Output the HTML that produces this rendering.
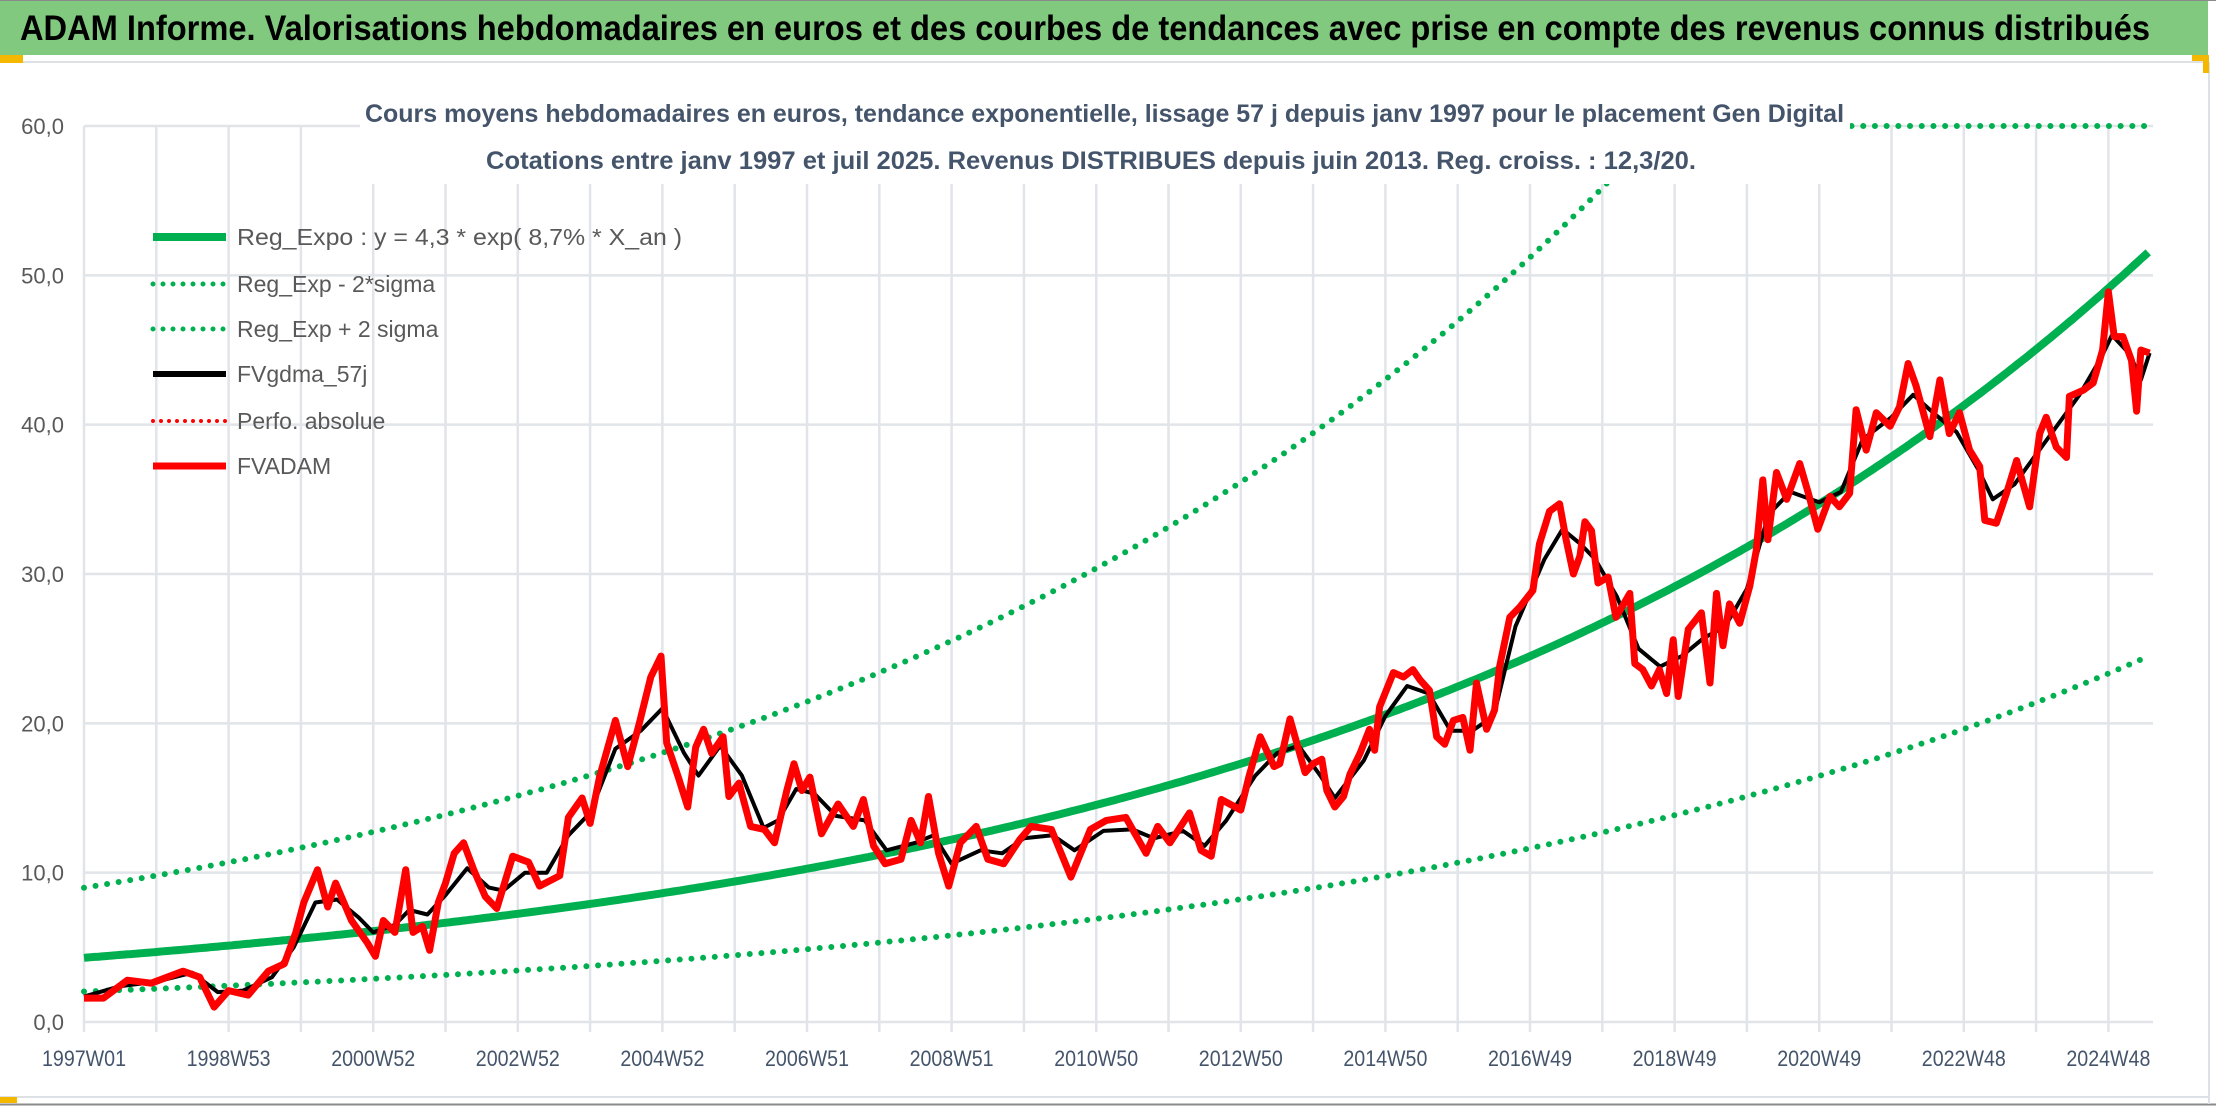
<!DOCTYPE html>
<html><head><meta charset="utf-8"><style>
html,body{margin:0;padding:0;background:#fff;}
svg{display:block;}
text{font-family:"Liberation Sans",sans-serif;}
</style></head><body>
<svg id="chart" width="2216" height="1106" viewBox="0 0 2216 1106" xmlns="http://www.w3.org/2000/svg">
<rect x="0" y="0" width="2216" height="1106" fill="#fff"/>
<rect x="0" y="0" width="2208" height="55" fill="#80c97f"/>
<line x1="0" y1="0.5" x2="2216" y2="0.5" stroke="#8a8a8a" stroke-width="1"/>
<text x="20" y="40" font-size="35" font-weight="bold" fill="#000" textLength="2130" lengthAdjust="spacingAndGlyphs">ADAM Informe. Valorisations hebdomadaires en euros et des courbes de tendances avec prise en compte des revenus connus distribués</text>
<line x1="0" y1="62" x2="2208" y2="62" stroke="#dde1e6" stroke-width="2"/>
<line x1="0" y1="1097" x2="2208" y2="1097" stroke="#dde1e6" stroke-width="2"/>
<line x1="0" y1="1104.5" x2="2216" y2="1104.5" stroke="#8a8a8a" stroke-width="2"/>
<line x1="2209" y1="62" x2="2209" y2="1104" stroke="#dde1e6" stroke-width="2"/>
<rect x="0" y="55" width="23" height="8" fill="#f5b800"/>
<rect x="0" y="1097" width="17" height="6" fill="#f5b800"/>
<rect x="2192" y="55" width="17" height="6" fill="#f5b800"/>
<rect x="2203" y="55" width="6" height="18" fill="#f5b800"/>
<g id="grid"></g>
<g id="axes"></g>
<g id="series"></g>
<rect x="360" y="90" width="1490" height="94" fill="#fff"/>
<text x="365" y="122" font-size="25" font-weight="bold" fill="#44546a" textLength="1479" lengthAdjust="spacingAndGlyphs">Cours moyens hebdomadaires en euros, tendance exponentielle, lissage 57 j depuis janv 1997 pour le placement Gen Digital</text>
<text x="486" y="169" font-size="25" font-weight="bold" fill="#44546a" textLength="1210" lengthAdjust="spacingAndGlyphs">Cotations entre janv 1997 et juil 2025. Revenus DISTRIBUES depuis juin 2013. Reg. croiss. : 12,3/20.</text>
<g id="legend"></g>
</svg>
<script>
// ---- data ----
const xTickLabels = ["1997W01","1998W53","2000W52","2002W52","2004W52","2006W51","2008W51","2010W50","2012W50","2014W50","2016W49","2018W49","2020W49","2022W48","2024W48"];
const yTicks = [0,10,20,30,40,50,60];
const yTickLabels = ["0,0","10,0","20,0","30,0","40,0","50,0","60,0"];
const trendA = 4.3;
const trendB = 0.087;
const bandLow = 0.475;
const bandHigh = 2.09;
const bandCap = 60;
const redT = [0,0.27,0.6,0.93,1.37,1.6,1.8,2.0,2.27,2.55,2.77,2.93,3.04,3.23,3.37,3.48,3.7,3.92,4.03,4.14,4.3,4.45,4.55,4.68,4.78,4.9,5.0,5.12,5.25,5.39,5.55,5.71,5.93,6.15,6.3,6.58,6.7,6.89,7.0,7.13,7.35,7.52,7.68,7.84,7.98,8.06,8.22,8.35,8.46,8.57,8.68,8.84,8.92,9.06,9.22,9.41,9.55,9.72,9.82,9.93,10.04,10.2,10.43,10.64,10.78,10.92,11.08,11.3,11.44,11.57,11.68,11.82,11.96,12.12,12.34,12.5,12.72,12.94,13.1,13.38,13.65,13.92,14.14,14.41,14.69,14.85,15.02,15.29,15.45,15.59,15.73,16.0,16.11,16.27,16.46,16.54,16.68,16.89,17.0,17.12,17.19,17.3,17.42,17.51,17.65,17.78,17.85,17.92,18.11,18.25,18.38,18.48,18.61,18.71,18.82,18.94,19.07,19.17,19.26,19.4,19.51,19.58,19.72,19.86,20.04,20.13,20.27,20.41,20.5,20.6,20.69,20.76,20.85,20.94,21.08,21.19,21.38,21.45,21.56,21.68,21.79,21.89,21.98,22.05,22.19,22.37,22.49,22.58,22.67,22.76,22.9,23.04,23.13,23.22,23.29,23.41,23.55,23.73,23.85,23.98,24.15,24.28,24.42,24.51,24.65,24.79,24.98,25.11,25.23,25.34,25.53,25.67,25.8,25.94,26.08,26.22,26.29,26.45,26.59,26.73,26.91,27.05,27.14,27.28,27.42,27.46,27.65,27.79,27.92,28.0,28.08,28.2,28.32,28.39,28.45,28.57];
const redV = [1.6,1.6,2.8,2.6,3.4,3.0,1.0,2.1,1.8,3.4,3.9,6.0,8.0,10.2,7.7,9.3,6.8,5.3,4.4,6.8,6.0,10.2,6.0,6.4,4.8,8.0,9.3,11.3,12.0,10.2,8.4,7.6,11.1,10.7,9.1,9.8,13.7,15.0,13.3,16.4,20.2,17.1,20.0,23.1,24.5,18.7,16.4,14.4,18.4,19.6,18.0,19.1,15.1,16.0,13.1,12.9,12.0,15.5,17.3,15.5,16.4,12.6,14.6,13.1,14.9,11.8,10.6,10.9,13.5,12.0,15.1,11.3,9.1,12.0,13.1,10.9,10.6,12.2,13.1,12.9,9.7,12.9,13.5,13.7,11.3,13.1,12.0,14.0,11.5,11.1,14.9,14.2,16.4,19.1,17.1,17.3,20.3,16.7,17.3,17.6,15.5,14.4,15.1,16.6,18.0,19.6,18.2,21.1,23.4,23.1,23.6,22.9,22.2,19.1,18.6,20.2,20.4,18.2,22.7,19.6,20.9,23.8,27.1,27.8,28.9,32.0,34.2,34.7,32.3,30.0,31.2,33.5,32.9,29.4,29.8,27.1,28.7,24.0,23.6,22.5,23.6,22.0,25.6,21.8,26.3,27.4,22.7,28.7,25.2,28.0,26.7,29.2,31.6,36.3,32.3,36.8,35.0,37.4,35.4,33.0,35.2,34.5,35.4,41.0,38.3,40.8,39.9,41.2,44.1,42.6,39.2,43.0,39.4,40.8,38.3,37.2,33.6,33.4,35.4,37.6,34.5,39.4,40.5,38.5,37.8,41.9,42.3,42.8,45.0,48.9,45.9,45.9,44.3,40.9,45.0,44.8];
const blackT = [0,0.5,1,1.5,1.85,2.2,2.6,2.9,3.2,3.5,3.8,4.0,4.3,4.5,4.75,5.0,5.3,5.6,5.8,6.1,6.4,6.7,7.0,7.35,7.7,8.0,8.3,8.5,8.8,9.1,9.4,9.6,9.85,10.1,10.4,10.8,11.1,11.5,11.75,12.0,12.4,12.7,13.0,13.4,13.7,14.1,14.5,14.8,15.2,15.5,15.8,16.2,16.5,16.8,17.1,17.3,17.7,18.0,18.3,18.6,18.9,19.2,19.5,19.8,20.2,20.45,20.7,20.9,21.2,21.5,21.8,22.1,22.4,22.7,23.0,23.3,23.6,24.0,24.3,24.6,25.0,25.3,25.6,25.9,26.2,26.4,26.7,27.0,27.3,27.6,27.9,28.05,28.3,28.45,28.57];
const blackV = [1.7,2.4,2.7,3.3,2.0,2.1,3.0,5.0,8.0,8.2,7.0,6.0,6.5,7.5,7.2,8.5,10.3,9.0,8.8,10.0,10.0,12.5,14.0,18.3,19.5,21.0,18.0,16.5,18.5,16.5,13.0,13.5,15.6,15.3,13.8,13.5,11.5,12.0,12.5,10.6,11.5,11.3,12.3,12.5,11.5,12.8,12.9,12.3,12.8,11.8,13.5,16.5,18.0,18.5,16.5,15.0,17.5,20.5,22.5,22.0,19.5,19.5,20.5,26.5,31.0,33.0,32.0,31.0,28.5,25.0,23.8,24.5,25.7,26.5,29.0,34.0,35.5,34.8,35.5,39.0,40.5,42.0,40.7,39.5,37.0,35.0,36.0,38.0,40.0,42.0,44.5,46.0,44.7,43.0,44.8];

// ---- scales ----
const X0 = 84, PXY = 72.3, Y0 = 1022, PXV = 14.933;
function sx(t){ return X0 + t*PXY; }
function sy(v){ return Y0 - v*PXV; }
const NS = "http://www.w3.org/2000/svg";
function mk(tag, attrs, parent){ const e=document.createElementNS(NS,tag); for(const k in attrs) e.setAttribute(k, attrs[k]); parent.appendChild(e); return e; }
const grid = document.getElementById('grid');
const axes = document.getElementById('axes');
const series = document.getElementById('series');
const legend = document.getElementById('legend');
const tEnd = 28.57;
const xRight = 2153;

// horizontal gridlines + y labels
yTicks.forEach((v,i)=>{
  const l = mk('line',{x1:X0,x2:xRight,y1:sy(v),y2:sy(v),stroke:'#e1e4e8','stroke-width':2.5},grid);
  
  
  const t = mk('text',{x:64,y:sy(v)+8,'text-anchor':'end','font-size':22,fill:'#595959'},axes);
  t.textContent = yTickLabels[i];
  
  
});
// vertical gridlines
for(let k=0;k<=28;k++){
  const x = sx(k);
  const l = mk('line',{x1:x,x2:x,y1:sy(60),y2:Y0+10,stroke:'#e1e4e8','stroke-width':2.5},grid);
  
  
}
// x labels
xTickLabels.forEach((s,i)=>{
  const t = mk('text',{x:sx(2*i),y:1066,'text-anchor':'middle','font-size':22,fill:'#44546a',textLength:84,lengthAdjust:'spacingAndGlyphs'},axes);
  t.textContent = s;
  
  
});

function pathFrom(ts, vs){ return ts.map((t,i)=>(i?'L':'M')+sx(t).toFixed(1)+' '+sy(vs[i]).toFixed(1)).join(' '); }
function curve(fn){ let d=''; for(let t=0;t<=tEnd+1e-9;t+=0.05){ d+=(d?'L':'M')+sx(t).toFixed(1)+' '+sy(fn(t)).toFixed(1)+' '; } return d; }
const trend = t => trendA*Math.exp(trendB*t);

const pTrend = mk('path',{d:curve(trend),fill:'none',stroke:'#00b050','stroke-width':8},series);


const pLow = mk('path',{d:curve(t=>trend(t)*bandLow),fill:'none',stroke:'#00b050','stroke-width':6,'stroke-linecap':'round','stroke-dasharray':'0 11.7'},series);


const pHigh = mk('path',{d:curve(t=>Math.min(trend(t)*bandHigh,bandCap)),fill:'none',stroke:'#00b050','stroke-width':6,'stroke-linecap':'round','stroke-dasharray':'0 11.7'},series);


const pRed = mk('path',{d:pathFrom(redT,redV),fill:'none',stroke:'#ff0000','stroke-width':7,'stroke-linejoin':'round'},series);


const pBlack = mk('path',{d:pathFrom(blackT,blackV),fill:'none',stroke:'#000','stroke-width':4,'stroke-linejoin':'round'},series);


series.appendChild(pRed);
// draw black partially under red: black then red on top, red slightly translucent edges kept
series.insertBefore(pBlack, pRed);

// legend
const legItems = [
 ['Reg_Expo : y = 4,3 * exp( 8,7% *  X_an )','#00b050',8,null],
 ['Reg_Exp - 2*sigma','#00b050',5,'0 10'],
 ['Reg_Exp + 2 sigma','#00b050',5,'0 10'],
 ['FVgdma_57j','#000',6,null],
 ['Perfo. absolue','#ff0000',4,'0 8'],
 ['FVADAM','#ff0000',7,null]
];
const legY = [237,284,329,374,421,466];
legItems.forEach((it,i)=>{
  const g = mk('g',{},legend);
  
  
  const a = {x1:153,x2:226,y1:legY[i],y2:legY[i],stroke:it[1],'stroke-width':it[2]};
  if(it[3]){ a['stroke-dasharray']=it[3]; a['stroke-linecap']='round'; }
  const l = mk('line',a,g);
  
  
  const t = mk('text',{x:237,y:legY[i]+8,'font-size':23,fill:'#595959'},g);
  t.textContent = it[0];
  
  
  if(i===0){ t.setAttribute('textLength','445'); t.setAttribute('lengthAdjust','spacingAndGlyphs'); }
});
</script>
</body></html>
